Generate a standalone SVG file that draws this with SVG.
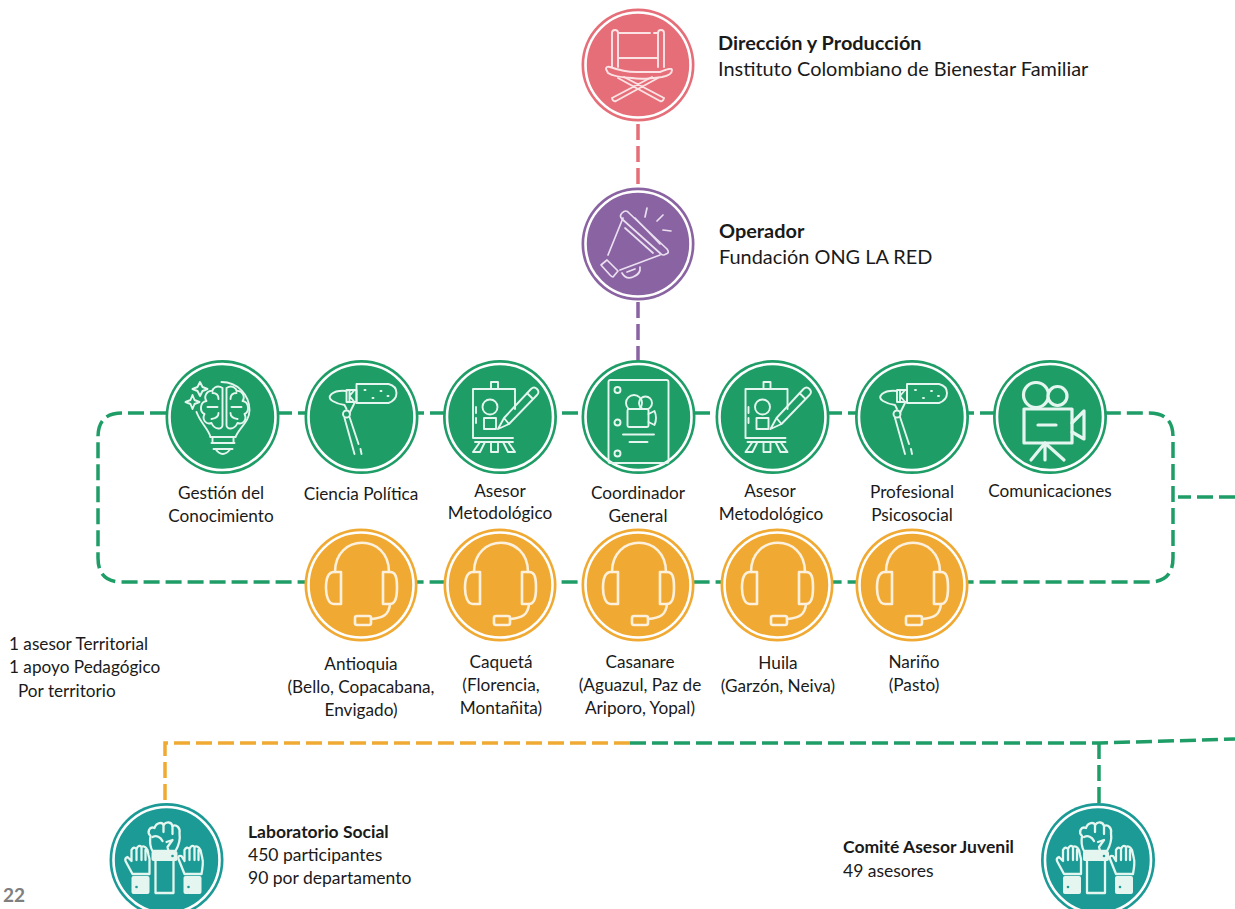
<svg xmlns="http://www.w3.org/2000/svg" width="1235" height="909" viewBox="0 0 1235 909">
<style>
text{font-family:"Lato","Liberation Sans",sans-serif;fill:#1a1a1a}
.l{font-size:17.2px;text-anchor:middle}
.t{font-size:19.9px}
.s{font-size:17.2px}
.u{font-size:17.5px}
.b{font-weight:700}
.ring{fill:none;stroke:#fff;stroke-width:2.6}
.ic{fill:none;stroke:#e4f6ef;stroke-width:1.9;stroke-linecap:round;stroke-linejoin:round}
.pk{stroke:#fbe3e5}
.pu{stroke:#eadff0;stroke-width:1.7}
.th{stroke-width:3.2}
.ih{fill:none;stroke:#fdf0dc;stroke-width:2.6;stroke-linecap:round;stroke-linejoin:round}
.h{stroke-width:2.3}
.f{fill:#e4f6ef;stroke:none}
.d{fill:#1b9a96;stroke:none}
.c{fill:none;stroke-width:3.5;stroke-dasharray:16 6}
.g{stroke:#1f9d67}.o{stroke:#f0aa33}.r{stroke:#e56e78}.p{stroke:#8a63a2}
</style>
<defs>
<symbol id="chair" overflow="visible"><g class="ic pk">
<path d="M-26 2V-32Q-26-35-23-35Q-20-35-20-32V2M20 2V-32Q20-35 23-35Q26-35 26-32V2M-20-32H12M16-32H20M-20-7H20"/>
<path d="M-32 4Q-32 1-28 2Q-14 7-2 7H22Q34 2 34 5Q34 10 24 12Q4 15-6 13Q-24 12-30 8Z"/>
<path d="M-26 33L14 12M-22 36L20 13M26 33L-14 12M22 36L-20 13M-26 33Q-25 37-22 36M26 33Q25 37 22 36"/></g></symbol>
<symbol id="mega" overflow="visible"><g class="ic pu">
<path d="M-16-31Q-12-35-9-31L29 5Q32 9 28 10Q25 12 23 10L-16-25Q-19-28-16-31Z"/>
<path d="M-15-26L-30 11M22 11L-18 26M-3-26L22 0M-13-16L15 9"/>
<path d="M-37 21L-31 16L-20 27L-25 33Q-26 33-28 31Z"/>
<path d="M-16 29Q-12 36-5 33Q3 30 2 23M-11 28L-3 25"/>
<path d="M9-36L7-27M25-29L19-23M33-13L25-14"/></g></symbol>
<symbol id="brain" overflow="visible"><g class="ic">
<path d="M-1-35C15-35 27-22 27-7C27 5 17 10 13 20H-12C-14 12-22 6-26-5"/>
<path d="M-12 20H13M-11 26H12M-9 32H10M-7 32Q0 42 8 32M-10 26V20M11 26V20"/>
<path d="M0-29C-6-33-10-28-10-26C-16-27-19-20-16-16C-23-15-23-5-18-3C-21 3-16 8-11 6C-8 13 0 13 0 8Z"/>
<path d="M4-29C10-33 14-28 14-26C20-27 23-20 20-16C27-15 27-5 22-3C25 3 20 8 15 6C12 13 4 13 4 8Z"/>
<path d="M-10-24Q-4-24-4-18M-15-10H-5M-11 2Q-4 1-4-4M14-24Q8-24 8-18M19-10H9M15 2Q8 1 8-4"/>
<path d="M-22.500-35L-20-30L-15-28L-20-26L-22.500-21L-25-26L-30-28L-25-30Z"/>
<path d="M-30-22L-28-17L-23-15L-28-13L-30-8L-32-13L-37-15L-32-17Z"/></g></symbol>
<symbol id="mic" overflow="visible"><g class="ic">
<path d="M-5-33H27Q35-31 35-24Q35-17 27-14H-5Z"/>
<path d="M-15-27H-5V-15H-15ZM-12-27V-15M-12-21L-7-27M-12-21L-7-15"/>
<path d="M-15-26Q-25-27-30-23Q-34-19-29-16Q-24-13-17-12L-15-8M-7-14L-12-4"/>
<circle cx="-15" cy="-3" r="3.500"/>
<path d="M-17 1L-7 37M-12 0L-3 27M-1 32L0 37"/>
<path d="M3-27h1M11-19h1M19-26h1M26-21h1"/></g></symbol>
<symbol id="easel" overflow="visible"><g class="ic">
<path d="M-9-28V-35H-2V-28M-27-28H15V-8M-27-28V21H-6M-25 21H13M-25 25H13"/>
<circle cx="-10" cy="-10" r="7.500"/>
<path d="M-16 1H-4V12H-16Z"/>
<path d="M-9 25V35H-2V25M-20 25L-27 35H-20L-15 25M8 25L15 35H8L3 25"/>
<path d="M-24-10V-4M-24 1V6"/>
<path d="M-2 12L4 1L31-28Q34-31 37-28Q40-25 37-22L9 7ZM4 1L9 7M27-24L33-18"/></g></symbol>
<symbol id="book" overflow="visible"><g class="ic">
<rect x="-30" y="-37" width="60" height="83" rx="2"/>
<circle cx="-21" cy="-27" r="3"/><circle cx="-21" cy="5.500" r="3"/><circle cx="-21" cy="36.500" r="3"/>
<circle cx="-4.500" cy="-14" r="8"/><circle cx="7" cy="-14" r="6.500"/>
<rect x="-11" y="-8" width="21" height="18" rx="1.500" fill="#1f9d67"/>
<path d="M10-3L16-6Q19 1 16 8L10 5"/>
<path d="M-15.500 17.500H15.500M-9 25H9"/></g></symbol>
<symbol id="cam" overflow="visible"><g class="ic th">
<circle cx="-14" cy="-22" r="12.500" fill="#1f9d67"/><circle cx="7.500" cy="-21" r="9.500" fill="#1f9d67"/>
<path d="M-26-8H22V26H-26Z" fill="#1f9d67"/>
<path d="M22 6L34-6V22L22 15"/>
<path d="M-12 8H6" />
<path d="M-5 26L-19 43M-5 26L14 43M-5 26V43"/></g></symbol>
<symbol id="head" overflow="visible"><g class="ih">
<path d="M-26-13C-26-52 28-52 28-13"/>
<path d="M-20-13V19H-27C-33 19-35 10-35 3C-35-7-33-13-27-13Z"/>
<path d="M22-13V19H29C35 19 36 10 36 3C36-7 35-13 29-13Z"/>
<path d="M29 19C28 30 22 33 10 34"/>
<rect x="-6" y="31" width="16" height="9" rx="2"/></g></symbol>
<symbol id="hands" overflow="visible"><g class="ic h">
<path d="M-14-9C-17-14-17-18-16-24C-20-28-17-34-12-32C-10-38-4-38-3-35C0-39 5-38 6-34C10-36 14-32 13-27C14-20 12-14 9-9Z"/>
<path d="M-14-23C-10-25-6-23-4-19M-3-35V-28M6-34V-26M0-18L6-20L1-13L2-9"/>
<rect class="f" x="-15" y="-9" width="26" height="10" rx="2"/><circle class="d" cx="6" cy="-4" r="1.300"/>
<path d="M-11 1V33H7V1"/>
<path d="M-34 14L-41 1Q-42-2-39-3L-35 1V-10Q-33-14-30-11Q-28-16-25-13Q-22-15-19-10L-18-5L-17-1L-17 14ZM-30-11V0M-25-13V0M-21-10V0"/>
<rect class="f" x="-35" y="16" width="18" height="18" rx="2"/><circle class="d" cx="-30" cy="27" r="1.300"/>
<path d="M18 14L12-1Q11-5 15-4L18 1V-10Q20-14 23-11Q25-16 28-13Q31-15 34-10L36-1Q37 3 35 14ZM23-11V0M28-13V0M32-10V0"/>
<rect class="f" x="17" y="16" width="18" height="18" rx="2"/><circle class="d" cx="22" cy="27" r="1.300"/></g></symbol>
</defs>

<g id="connectors">
<path class="c r" d="M638 124V186"/>
<path class="c p" d="M638 302V362"/>
<path class="c g" d="M166 413H122Q98 413 98 437V558Q98 582 122 582H1149Q1173 582 1173 558V437Q1173 413 1149 413H1100"/>
<path class="c g" d="M166 413H1100"/>
<path class="c g" d="M1235 497H1178"/>
<path class="c o" d="M630 743H165V804"/>
<path class="c g" d="M630 743H1100L1235 739"/>
<path class="c g" d="M1099 743V805"/>
</g>

<g id="n-direccion"><circle cx="638" cy="65" r="56.500" fill="#e56e78"/><circle class="ring" cx="638" cy="65" r="52.500"/><use href="#chair" x="638" y="65"/></g>
<g id="n-operador"><circle cx="638" cy="244" r="56.500" fill="#8a63a2"/><circle class="ring" cx="638" cy="244" r="52.500"/><use href="#mega" x="638" y="244"/></g>

<g id="n-gestion"><circle cx="222.500" cy="417" r="57" fill="#1f9d67"/><circle class="ring" cx="222.500" cy="417" r="53"/><use href="#brain" x="222.500" y="417"/></g>
<g id="n-ciencia"><circle cx="361.500" cy="417" r="57" fill="#1f9d67"/><circle class="ring" cx="361.500" cy="417" r="53"/><use href="#mic" x="361.500" y="417"/></g>
<g id="n-asesor1"><circle cx="500" cy="417" r="57" fill="#1f9d67"/><circle class="ring" cx="500" cy="417" r="53"/><use href="#easel" x="500" y="417"/></g>
<g id="n-coordinador"><circle cx="638.500" cy="417" r="57" fill="#1f9d67"/><circle class="ring" cx="638.500" cy="417" r="53"/><use href="#book" x="638.500" y="417"/></g>
<g id="n-asesor2"><circle cx="772.500" cy="417" r="57" fill="#1f9d67"/><circle class="ring" cx="772.500" cy="417" r="53"/><use href="#easel" x="772.500" y="417"/></g>
<g id="n-profesional"><circle cx="912" cy="417" r="57" fill="#1f9d67"/><circle class="ring" cx="912" cy="417" r="53"/><use href="#mic" x="912" y="417"/></g>
<g id="n-comunicaciones"><circle cx="1050" cy="417" r="57" fill="#1f9d67"/><circle class="ring" cx="1050" cy="417" r="53"/><use href="#cam" x="1050" y="417"/></g>

<g id="n-antioquia"><circle cx="361" cy="585" r="56.500" fill="#f0aa33"/><circle class="ring" cx="361" cy="585" r="52.500"/><use href="#head" x="361" y="585"/></g>
<g id="n-caqueta"><circle cx="500" cy="585" r="56.500" fill="#f0aa33"/><circle class="ring" cx="500" cy="585" r="52.500"/><use href="#head" x="500" y="585"/></g>
<g id="n-casanare"><circle cx="638" cy="585" r="56.500" fill="#f0aa33"/><circle class="ring" cx="638" cy="585" r="52.500"/><use href="#head" x="638" y="585"/></g>
<g id="n-huila"><circle cx="777" cy="585" r="56.500" fill="#f0aa33"/><circle class="ring" cx="777" cy="585" r="52.500"/><use href="#head" x="777" y="585"/></g>
<g id="n-narino"><circle cx="912" cy="585" r="56.500" fill="#f0aa33"/><circle class="ring" cx="912" cy="585" r="52.500"/><use href="#head" x="912" y="585"/></g>

<g id="n-laboratorio"><circle cx="166.500" cy="860" r="57" fill="#1b9a96"/><circle class="ring" cx="166.500" cy="860" r="53"/><use href="#hands" x="166.500" y="860"/></g>
<g id="n-comite"><circle cx="1098" cy="860" r="57" fill="#1b9a96"/><circle class="ring" cx="1098" cy="860" r="53"/><use href="#hands" x="1098" y="860"/></g>

<g id="labels">
<text class="t b" x="718" y="50">Dirección y Producción</text>
<text class="t" x="718" y="76">Instituto Colombiano de Bienestar Familiar</text>
<text class="t b" x="719" y="238">Operador</text>
<text class="t" x="719" y="264">Fundación ONG LA RED</text>
<text class="l" x="221" y="499">Gestión del</text><text class="l" x="221" y="522">Conocimiento</text>
<text class="l" x="361" y="500">Ciencia Política</text>
<text class="l" x="500" y="497">Asesor</text><text class="l" x="500" y="519">Metodológico</text>
<text class="l" x="638" y="499">Coordinador</text><text class="l" x="638" y="522">General</text>
<text class="l" x="770" y="497">Asesor</text><text class="l" x="771" y="520">Metodológico</text>
<text class="l" x="912" y="498">Profesional</text><text class="l" x="912" y="521">Psicosocial</text>
<text class="l" x="1050" y="497">Comunicaciones</text>
<text class="l" x="361" y="670">Antioquia</text><text class="l" x="361" y="693">(Bello, Copacabana,</text><text class="l" x="361" y="716">Envigado)</text>
<text class="l" x="501" y="668">Caquetá</text><text class="l" x="501" y="691">(Florencia,</text><text class="l" x="501" y="714">Montañita)</text>
<text class="l" x="640" y="668">Casanare</text><text class="l" x="640" y="691">(Aguazul, Paz de</text><text class="l" x="640" y="714">Ariporo, Yopal)</text>
<text class="l" x="778" y="669">Huila</text><text class="l" x="778" y="692">(Garzón, Neiva)</text>
<text class="l" x="914" y="668">Nariño</text><text class="l" x="914" y="691">(Pasto)</text>
<text class="s" x="9" y="650">1 asesor Territorial</text>
<text class="s" x="9" y="673">1 apoyo Pedagógico</text>
<text class="s" x="18" y="697">Por territorio</text>
<text class="u b" x="248" y="838">Laboratorio Social</text>
<text class="u" x="248" y="861">450 participantes</text>
<text class="u" x="248" y="884">90 por departamento</text>
<text class="u b" x="843" y="853">Comité Asesor Juvenil</text>
<text class="u" x="843" y="877">49 asesores</text>
<text x="3" y="902" style="font-size:19px;font-weight:700;fill:#7f7f7f">22</text>
</g>
</svg>
